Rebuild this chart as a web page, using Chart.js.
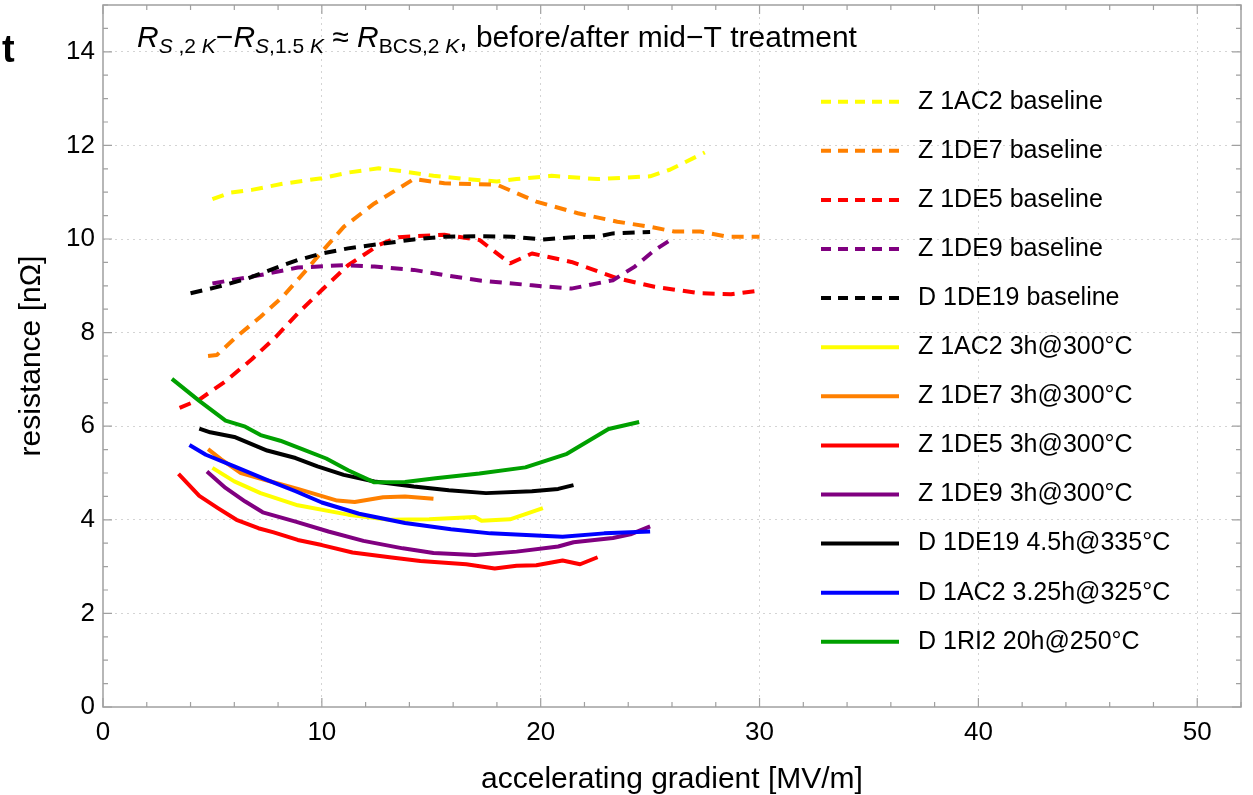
<!DOCTYPE html>
<html>
<head>
<meta charset="utf-8">
<script src="https://cdn.jsdelivr.net/npm/chart.js@4.4.1/dist/chart.umd.min.js"></script>
<style>
html, body { margin: 0; padding: 0; background: #fff; }
#wrap { width: 1253px; height: 795px; }
</style>
</head>
<body>
<div id="wrap"><canvas id="resChart" width="1253" height="795"></canvas></div>
<script>
// values (gradient in MV/m, resistance in nOhm)
const z1ac2BaseX = [5.0, 5.8, 6.8, 8.2, 10.0, 11.2, 12.6, 13.8, 15.1, 16.6, 18.0, 18.9, 20.5, 22.6, 25.0, 25.9, 27.5];
const z1ac2BaseY = [10.85, 10.99, 11.05, 11.18, 11.30, 11.42, 11.51, 11.44, 11.35, 11.28, 11.23, 11.28, 11.35, 11.28, 11.34, 11.48, 11.85];
const z1de7BaseX = [4.8, 5.2, 6.0, 7.2, 8.2, 9.3, 10.0, 11.0, 12.4, 14.2, 15.6, 18.0, 19.8, 21.7, 23.5, 25.0, 26.1, 27.3, 28.5, 30.0];
const z1de7BaseY = [7.5, 7.52, 7.87, 8.34, 8.76, 9.34, 9.73, 10.26, 10.76, 11.28, 11.19, 11.16, 10.8, 10.55, 10.37, 10.26, 10.16, 10.16, 10.05, 10.05];
const z1de5BaseX = [3.5, 4.4, 5.6, 6.8, 7.9, 8.9, 10.0, 11.2, 12.6, 13.5, 15.6, 17.2, 18.6, 19.6, 21.4, 23.5, 25.2, 27.3, 28.7, 30.0];
const z1de5BaseY = [6.39, 6.57, 6.96, 7.43, 7.91, 8.41, 8.91, 9.44, 9.87, 10.04, 10.09, 9.98, 9.48, 9.69, 9.51, 9.16, 8.98, 8.84, 8.82, 8.9];
const z1de9BaseX = [5.0, 7.2, 8.9, 11.0, 12.4, 14.2, 15.6, 17.3, 19.6, 21.4, 23.3, 24.3, 25.2, 26.0];
const z1de9BaseY = [9.05, 9.23, 9.39, 9.44, 9.41, 9.34, 9.23, 9.11, 9.01, 8.94, 9.12, 9.41, 9.76, 10.0];
const d1de19BaseX = [4.0, 5.1, 6.5, 7.2, 8.1, 8.9, 10.0, 11.2, 12.6, 14.2, 15.6, 17.3, 18.7, 20.1, 21.5, 22.6, 23.3, 25.0];
const d1de19BaseY = [8.84, 8.96, 9.14, 9.26, 9.42, 9.55, 9.69, 9.80, 9.89, 9.99, 10.05, 10.06, 10.05, 9.99, 10.04, 10.05, 10.12, 10.15];

const z1ac2TreatX = [5.0, 6.0, 7.2, 8.9, 11.2, 13.1, 14.9, 17.0, 17.3, 18.6, 20.1];
const z1ac2TreatY = [5.11, 4.82, 4.57, 4.31, 4.11, 4.0, 4.01, 4.06, 3.98, 4.01, 4.25];
const z1de7TreatX = [4.8, 5.4, 6.3, 7.5, 8.9, 10.7, 11.5, 12.8, 13.8, 15.1];
const z1de7TreatY = [5.51, 5.29, 5.0, 4.84, 4.66, 4.41, 4.38, 4.48, 4.5, 4.45];
const z1de5TreatX = [3.45, 4.4, 5.25, 6.1, 7.1, 7.8, 8.9, 10.0, 11.4, 13.1, 14.5, 16.6, 17.9, 18.9, 19.8, 21.0, 21.8, 22.6];
const z1de5TreatY = [4.98, 4.51, 4.25, 4.0, 3.82, 3.73, 3.57, 3.46, 3.3, 3.2, 3.12, 3.05, 2.96, 3.02, 3.03, 3.13, 3.05, 3.2];
const z1de9TreatX = [4.75, 5.6, 6.5, 7.3, 8.8, 10.3, 11.9, 13.7, 15.1, 17.0, 18.9, 20.8, 21.5, 23.3, 24.1, 25.0];
const z1de9TreatY = [5.03, 4.68, 4.39, 4.16, 3.96, 3.75, 3.55, 3.39, 3.29, 3.25, 3.32, 3.43, 3.52, 3.61, 3.69, 3.86];
const d1de19TreatX = [4.4, 4.9, 6.0, 7.5, 8.8, 9.8, 11.0, 12.4, 14.2, 15.8, 17.5, 19.6, 20.8, 21.5];
const d1de19TreatY = [5.95, 5.87, 5.77, 5.48, 5.32, 5.14, 4.96, 4.82, 4.71, 4.63, 4.57, 4.61, 4.66, 4.74];
const d1ac2TreatX = [3.95, 4.7, 6.0, 7.4, 8.8, 10.0, 11.7, 13.8, 15.9, 17.7, 19.1, 21.0, 22.9, 25.0];
const d1ac2TreatY = [5.6, 5.39, 5.14, 4.87, 4.61, 4.37, 4.13, 3.93, 3.80, 3.71, 3.68, 3.64, 3.71, 3.75];
const d1ri2TreatX = [3.15, 4.4, 5.6, 6.5, 7.2, 8.1, 9.1, 10.2, 11.2, 12.4, 13.8, 15.2, 17.2, 19.3, 21.2, 23.1, 24.5];
const d1ri2TreatY = [7.01, 6.54, 6.12, 5.99, 5.81, 5.69, 5.51, 5.31, 5.06, 4.80, 4.81, 4.89, 4.99, 5.12, 5.41, 5.94, 6.09];

const seriesLabels = [
    'Z 1AC2 baseline', 'Z 1DE7 baseline', 'Z 1DE5 baseline', 'Z 1DE9 baseline', 'D 1DE19 baseline',
    'Z 1AC2 3h@300°C', 'Z 1DE7 3h@300°C', 'Z 1DE5 3h@300°C', 'Z 1DE9 3h@300°C',
    'D 1DE19 4.5h@335°C', 'D 1AC2 3.25h@325°C', 'D 1RI2 20h@250°C'
];
const seriesX = [z1ac2BaseX, z1de7BaseX, z1de5BaseX, z1de9BaseX, d1de19BaseX,
    z1ac2TreatX, z1de7TreatX, z1de5TreatX, z1de9TreatX, d1de19TreatX, d1ac2TreatX, d1ri2TreatX];
const seriesY = [z1ac2BaseY, z1de7BaseY, z1de5BaseY, z1de9BaseY, d1de19BaseY,
    z1ac2TreatY, z1de7TreatY, z1de5TreatY, z1de9TreatY, d1de19TreatY, d1ac2TreatY, d1ri2TreatY];

const xTicks = [0, 10, 20, 30, 40, 50];
const yTicks = [0, 2, 4, 6, 8, 10, 12, 14];

// styles
const seriesColors = ['#ffff00', '#ff8000', '#ff0000', '#800080', '#000000',
    '#ffff00', '#ff8000', '#ff0000', '#800080', '#000000', '#0000ff', '#00a000'];
const seriesDashed = [true, true, true, true, true, false, false, false, false, false, false, false];
const FONT = '"Liberation Sans", Arial, sans-serif';
const DASH = [12, 8];

const datasets = seriesLabels.map((label, i) => ({
    label: label,
    data: seriesX[i].map((x, k) => ({ x: x, y: seriesY[i][k] })),
    borderColor: seriesColors[i],
    backgroundColor: seriesColors[i],
    borderWidth: 4,
    borderDash: seriesDashed[i] ? DASH : [],
    borderJoinStyle: 'round',
    pointRadius: 0,
    tension: 0,
    fill: false,
    order: seriesLabels.length - i
}));

// frame with inward ticks on all four sides, like the original
const framePlugin = {
    id: 'frame',
    afterDatasetsDraw(chart) {
        const { ctx, chartArea: a, scales: { x, y } } = chart;
        ctx.save();
        ctx.strokeStyle = '#a0a0a0';
        ctx.lineWidth = 1.5;
        ctx.strokeRect(a.left, a.top, a.right - a.left, a.bottom - a.top);
        ctx.lineWidth = 1.2;
        ctx.beginPath();
        for (let v = 0; v <= 52; v += 2) {
            const px = x.getPixelForValue(v);
            const len = v % 10 === 0 ? 9 : 5;
            ctx.moveTo(px, a.bottom); ctx.lineTo(px, a.bottom - len);
            ctx.moveTo(px, a.top); ctx.lineTo(px, a.top + len);
        }
        for (let v = 0; v <= 15; v += 0.5) {
            const py = y.getPixelForValue(v);
            const len = v % 2 === 0 ? 9 : 5;
            ctx.moveTo(a.left, py); ctx.lineTo(a.left + len, py);
            ctx.moveTo(a.right, py); ctx.lineTo(a.right - len, py);
        }
        ctx.stroke();
        ctx.restore();
    }
};

// legend at the right inside the frame, plus the title with sub-scripts
const overlayPlugin = {
    id: 'overlay',
    afterDraw(chart) {
        const ctx = chart.ctx;
        ctx.save();
        chart.data.datasets.forEach((ds, i) => {
            const yy = 101.7 + 49.1 * i;
            ctx.strokeStyle = ds.borderColor;
            ctx.lineWidth = 4;
            ctx.setLineDash(ds.borderDash.length ? [10, 7] : []);
            ctx.beginPath();
            ctx.moveTo(821, yy); ctx.lineTo(899, yy);
            ctx.stroke();
            ctx.setLineDash([]);
            ctx.fillStyle = '#000';
            ctx.font = '25px ' + FONT;
            ctx.textBaseline = 'middle';
            ctx.fillText(ds.label, 918, yy);
        });

        const big = 30, small = 21;
        const parts = [
            ['R', big, true, 0], ['S', small, true, 1], [' ,2 ', small, false, 1], ['K', small, true, 1],
            ['\u2212', big, false, 0],
            ['R', big, true, 0], ['S', small, true, 1], [',1.5 ', small, false, 1], ['K', small, true, 1],
            [' \u2248 ', big, false, 0],
            ['R', big, true, 0], ['BCS,2 ', small, false, 1], ['K', small, true, 1],
            [', before/after mid\u2212T treatment', big, false, 0]
        ];
        let tx = 137;
        const base = 47;
        ctx.textBaseline = 'alphabetic';
        parts.forEach(([s, size, it, sub]) => {
            ctx.font = (it ? 'italic ' : '') + size + 'px ' + FONT;
            ctx.fillText(s, tx, base + (sub ? 6 : 0));
            tx += ctx.measureText(s).width;
        });

        ctx.font = 'bold 38px ' + FONT;
        ctx.fillText('t', 2, 62);
        ctx.restore();
    }
};

new Chart(document.getElementById('resChart').getContext('2d'), {
    type: 'line',
    data: { datasets: datasets },
    options: {
        responsive: false,
        animation: false,
        devicePixelRatio: 1,
        layout: { padding: { top: 5, right: 12, left: 0, bottom: 0 } },
        plugins: { legend: { display: false }, tooltip: { enabled: false } },
        scales: {
            x: {
                type: 'linear',
                min: 0,
                max: 52,
                afterBuildTicks: s => { s.ticks = xTicks.map(v => ({ value: v })); },
                afterFit: s => { s.height = 88; s.paddingLeft = 0; s.paddingRight = 0; },
                ticks: { color: '#000', font: { family: FONT, size: 26 }, padding: 10, maxRotation: 0 },
                grid: { color: c => (c.tick && c.tick.value === 0 ? 'rgba(0,0,0,0)' : '#d4d4d4'), lineWidth: 1, drawTicks: false },
                border: { display: false, dash: [2, 4] },
                title: { display: true, text: 'accelerating gradient [MV/m]', color: '#000',
                    font: { family: FONT, size: 30 }, padding: { top: 0, bottom: -3 } }
            },
            y: {
                type: 'linear',
                min: 0,
                max: 15,
                afterBuildTicks: s => { s.ticks = yTicks.map(v => ({ value: v })); },
                afterFit: s => { s.width = 103; s.paddingTop = 0; s.paddingBottom = 0; },
                ticks: { color: '#000', font: { family: FONT, size: 26 }, padding: 8 },
                grid: { color: c => (c.tick && c.tick.value === 0 ? 'rgba(0,0,0,0)' : '#d4d4d4'), lineWidth: 1, drawTicks: false },
                border: { display: false, dash: [2, 4] },
                title: { display: true, text: 'resistance [nΩ]', color: '#000',
                    font: { family: FONT, size: 30 }, padding: { top: 14, bottom: 0 } }
            }
        }
    },
    plugins: [framePlugin, overlayPlugin]
});
</script>
</body>
</html>
